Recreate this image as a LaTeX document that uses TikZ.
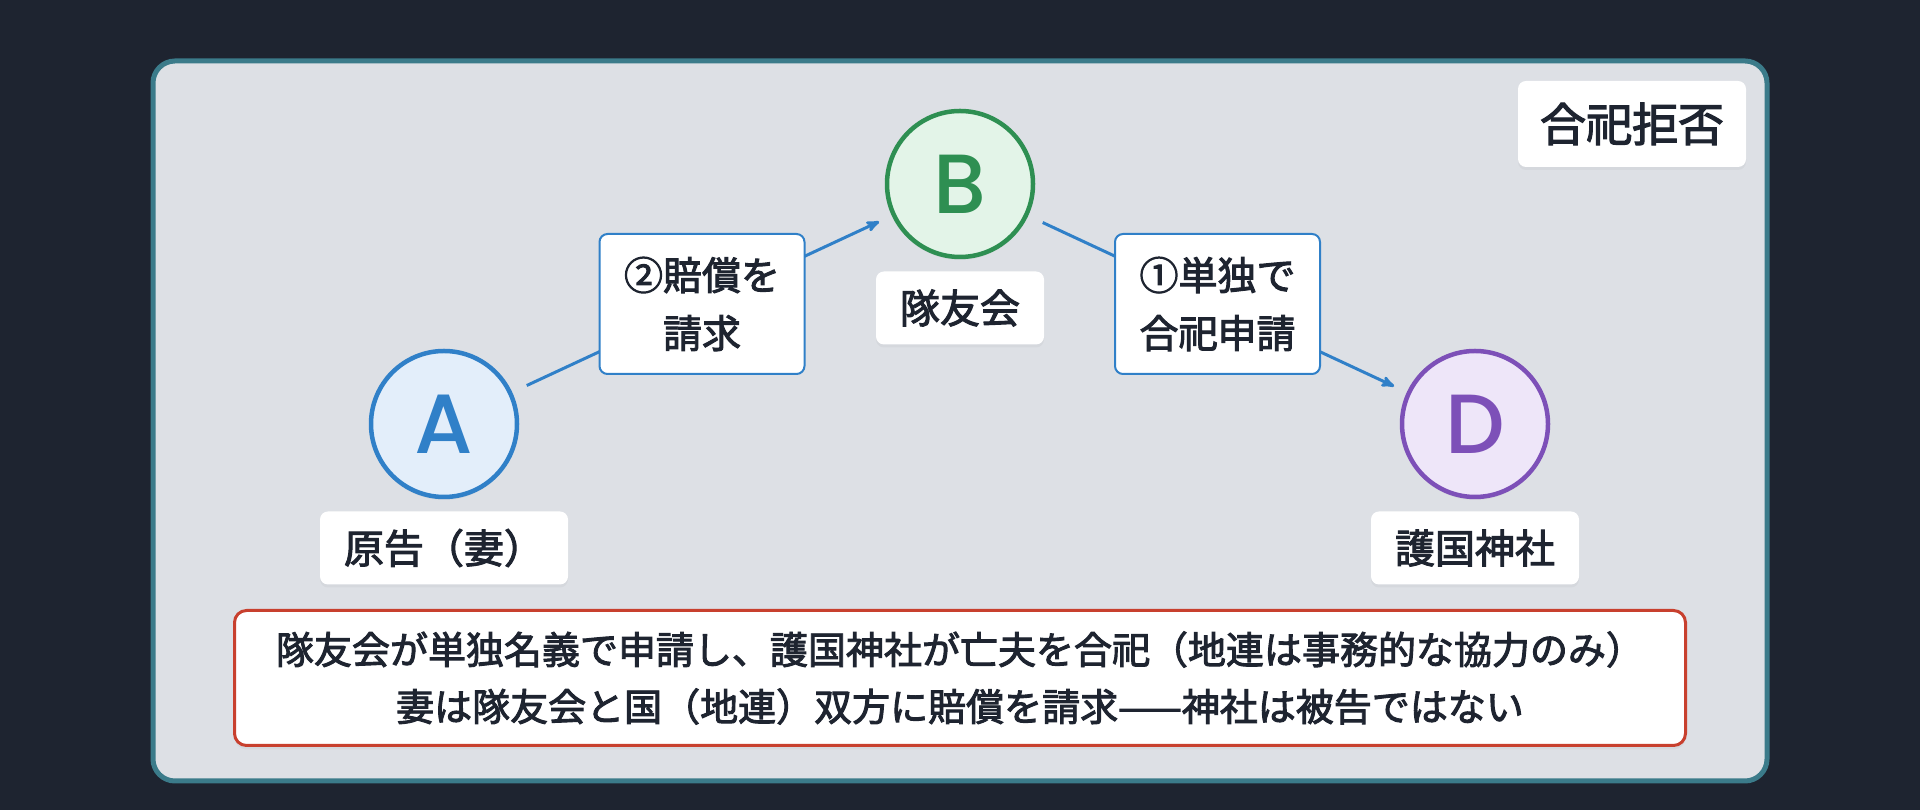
\documentclass[tikz,border=0pt]{standalone}
\usepackage{fontspec}
\setmainfont{Noto Sans CJK JP}[FakeBold=2.5]
\IfFontExistsTF{Poppins Medium}
    {\newfontfamily\letterfont{Poppins Medium}}
    {\newfontfamily\letterfont{Poppins}[FakeBold=1.5]}
\usepackage{xcolor}
\usepackage{tikz}
\usetikzlibrary{arrows}
\usetikzlibrary{calc}
\usetikzlibrary{positioning}
\usetikzlibrary{shadows}

\definecolor{bgdark}{HTML}{1E2430}
\definecolor{panelfill}{HTML}{DDE0E5}
\definecolor{panelline}{HTML}{3B7B8A}
\definecolor{inkdark}{HTML}{1E2430}
\definecolor{linkblue}{HTML}{3080C8}
\definecolor{afill}{HTML}{E3EEFA}
\definecolor{bgreen}{HTML}{2E8F52}
\definecolor{bfill}{HTML}{E3F4E8}
\definecolor{dpurple}{HTML}{7D50B8}
\definecolor{dfill}{HTML}{EEE6F9}
\definecolor{notered}{HTML}{C8402E}

\begin{document}
\begin{tikzpicture}[>=stealth',x=1pt,y=1pt,
    party node/.style={circle,minimum size=146pt,line width=4.5pt,font=\fontsize{84}{84}\letterfont,drop shadow={opacity=0.08,shadow xshift=0pt,shadow yshift=-3pt}},
    name tag/.style={rectangle,rounded corners=8pt,fill=white,text=inkdark,minimum height=73pt,inner xsep=24pt,font=\fontsize{40}{48}\selectfont,drop shadow={opacity=0.08,shadow xshift=0pt,shadow yshift=-3pt}},
    step label/.style={rectangle,rounded corners=8pt,draw=linkblue,line width=2pt,fill=white,text=inkdark,align=center,minimum width=205pt,minimum height=140pt,font=\fontsize{39}{58}\selectfont},
    link/.style={->,draw=linkblue,line width=3pt,shorten >=14pt,shorten <=16pt}]

    \fill[bgdark] (0,0) rectangle (1920,810);
    \useasboundingbox (0,0) rectangle (1920,810);
    \draw[panelline,fill=panelfill,line width=5pt,rounded corners=22pt] (153,29) rectangle (1767,749);

    \node[party node,draw=bgreen,fill=bfill,text=bgreen] (youkai) at (960,626) {B};
    \node[party node,draw=linkblue,fill=afill,text=linkblue,on grid,below left=240pt and 516pt of youkai] (plaintiff) {A};
    \node[party node,draw=dpurple,fill=dfill,text=dpurple,on grid,right=1031pt of plaintiff] (shrine) {D};

    \node[name tag,on grid,below=124pt of plaintiff] (plaintiff-tag) {原告（妻）};
    \node[name tag,on grid,below=124pt of youkai] (youkai-tag) {隊友会};
    \node[name tag,on grid,below=124pt of shrine] (shrine-tag) {護国神社};

    \node[name tag,minimum height=86pt,inner xsep=22pt,font=\fontsize{46}{52}\selectfont] (verdict) at (1632,686) {合祀拒否};

    \path[link,every node/.style={step label}]
        (plaintiff) edge node {②賠償を\\請求} (youkai)
        (youkai) edge node {①単独で\\合祀申請} (shrine);

    \node[rectangle,rounded corners=12pt,draw=notered,line width=3pt,fill=white,text=inkdark,align=center,minimum width=1451pt,minimum height=135pt,font=\fontsize{38}{57}\selectfont,drop shadow={opacity=0.08,shadow xshift=0pt,shadow yshift=-4pt},on grid,below=494pt of youkai] (summary)
        {隊友会が単独名義で申請し、護国神社が亡夫を合祀（地連は事務的な協力のみ）\\妻は隊友会と国（地連）双方に賠償を請求——神社は被告ではない};

\end{tikzpicture}
\end{document}
